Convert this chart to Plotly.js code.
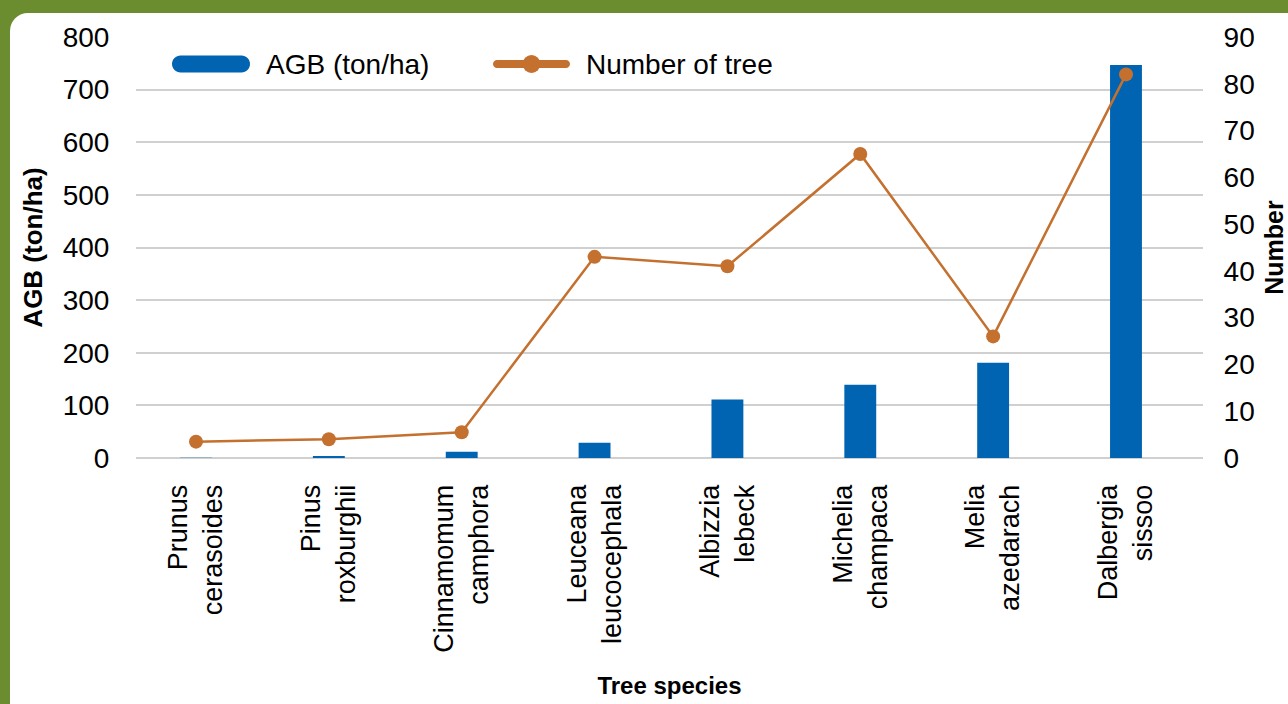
<!DOCTYPE html>
<html>
<head>
<meta charset="utf-8">
<script src="https://cdn.plot.ly/plotly-3.0.1.min.js"></script>
<style>
  html, body { margin: 0; padding: 0; width: 1288px; height: 704px; overflow: hidden; background: #6B8C2F; }
  #chart {
    position: absolute; left: 10px; top: 13px; width: 1278px; height: 691px;
    background: #ffffff; border-top-left-radius: 18px; overflow: hidden;
  }
</style>
</head>
<body>
<div id="chart"></div>
<script>
// Tree species and their measurements
const species = ['Prunus cerasoides', 'Pinus roxburghii', 'Cinnamomum camphora', 'Leuceana leucocephala',
                 'Albizzia lebeck', 'Michelia champaca', 'Melia azedarach', 'Dalbergia sissoo'];
const speciesLabels = ['Prunus<br>cerasoides', 'Pinus<br>roxburghii', 'Cinnamomum<br>camphora', 'Leuceana<br>leucocephala',
                       'Albizzia<br>lebeck', 'Michelia<br>champaca', 'Melia<br>azedarach', 'Dalbergia<br>sissoo'];
const agb = [0.5, 4, 12, 29, 111, 139, 181, 747];        // AGB (ton/ha)
const treeCount = [3.5, 4, 5.5, 43, 41, 65, 26, 82];      // Number of tree
const agbTicks = [0, 100, 200, 300, 400, 500, 600, 700, 800];
const countTicks = [0, 10, 20, 30, 40, 50, 60, 70, 80, 90];

const BLUE = '#0064B2';
const ORANGE = '#C4702F';
const W = 1278, H = 691;
const M = { l: 126, r: 85, t: 24, b: 246 };
const PW = W - M.l - M.r, PH = H - M.t - M.b;

// pixel (inside the chart div) -> paper coordinates, used for the legend artwork
const px = x => (x - M.l) / PW;
const py = y => 1 - (y - M.t) / PH;

function pillPath(x0, x1, yc, h) {
  const r = h / 2, k = 0.5523 * r;
  const a = x0 + r, b = x1 - r;
  const P = (x, y) => px(x).toFixed(5) + ',' + py(y).toFixed(5);
  return 'M' + P(a, yc - r) + ' L' + P(b, yc - r) +
    ' C' + P(b + k, yc - r) + ' ' + P(x1, yc - k) + ' ' + P(x1, yc) +
    ' C' + P(x1, yc + k) + ' ' + P(b + k, yc + r) + ' ' + P(b, yc + r) +
    ' L' + P(a, yc + r) +
    ' C' + P(a - k, yc + r) + ' ' + P(x0, yc + k) + ' ' + P(x0, yc) +
    ' C' + P(x0, yc - k) + ' ' + P(a - k, yc - r) + ' ' + P(a, yc - r) + ' Z';
}

const legendY = 51;
const shapes = [
  { type: 'path', xref: 'paper', yref: 'paper', path: pillPath(162, 240, legendY, 17),
    fillcolor: BLUE, line: { width: 0 } },
  { type: 'path', xref: 'paper', yref: 'paper', path: pillPath(483, 560, legendY, 8),
    fillcolor: ORANGE, line: { width: 0 } },
  { type: 'circle', xref: 'paper', yref: 'paper',
    x0: px(521.5 - 9), x1: px(521.5 + 9), y0: py(legendY + 9), y1: py(legendY - 9),
    fillcolor: ORANGE, line: { width: 0 } }
];

const annotations = [
  { xref: 'paper', yref: 'paper', x: px(254), y: py(legendY), xanchor: 'left', yanchor: 'middle',
    text: 'AGB (ton/ha)', showarrow: false, font: { size: 28, color: '#000' } },
  { xref: 'paper', yref: 'paper', x: px(574), y: py(legendY), xanchor: 'left', yanchor: 'middle',
    text: 'Number of tree', showarrow: false, font: { size: 28, color: '#000' } }
];

const traces = [
  { type: 'bar', x: species, y: agb, name: 'AGB (ton/ha)', marker: { color: BLUE }, yaxis: 'y' },
  { type: 'scatter', mode: 'lines+markers', x: species, y: treeCount, name: 'Number of tree',
    yaxis: 'y2', line: { color: ORANGE, width: 2.5 }, marker: { color: ORANGE, size: 14 } }
];

const font = 'Liberation Sans, Arial, sans-serif';
const layout = {
  width: W, height: H,
  margin: M,
  paper_bgcolor: 'rgba(0,0,0,0)', plot_bgcolor: '#ffffff',
  font: { family: font, color: '#000' },
  showlegend: false,
  bargap: 0.76,
  xaxis: {
    type: 'category', range: [-0.4515, 7.5796],
    tickvals: species, ticktext: speciesLabels, tickangle: -90,
    tickfont: { size: 27, color: '#000' },
    ticks: 'outside', ticklen: 15, tickcolor: 'rgba(0,0,0,0)',
    showgrid: false, zeroline: false, showline: false,
    title: { text: 'Tree species', font: { size: 24, weight: 'bold', color: '#000' }, standoff: 25 }
  },
  yaxis: {
    range: [0, 800], tickvals: agbTicks,
    tickfont: { size: 28, color: '#000' },
    ticks: 'outside', ticklen: 20, tickcolor: 'rgba(0,0,0,0)',
    showgrid: true, gridcolor: '#d0d0d0', gridwidth: 2,
    zeroline: true, zerolinecolor: '#d0d0d0', zerolinewidth: 2, showline: false,
    title: { text: 'AGB (ton/ha)', font: { size: 26, weight: 'bold', color: '#000' }, standoff: 12 }
  },
  yaxis2: {
    range: [0, 90], tickvals: countTicks, overlaying: 'y', side: 'right',
    tickfont: { size: 28, color: '#000' },
    ticks: 'outside', ticklen: 14, tickcolor: 'rgba(0,0,0,0)',
    showgrid: false, zeroline: false, showline: false,
    title: { text: 'Number', font: { size: 25, weight: 'bold', color: '#000' }, standoff: 12 }
  },
  shapes: shapes,
  annotations: annotations
};

Plotly.newPlot('chart', traces, layout, { displayModeBar: false, staticPlot: true });
</script>
</body>
</html>
